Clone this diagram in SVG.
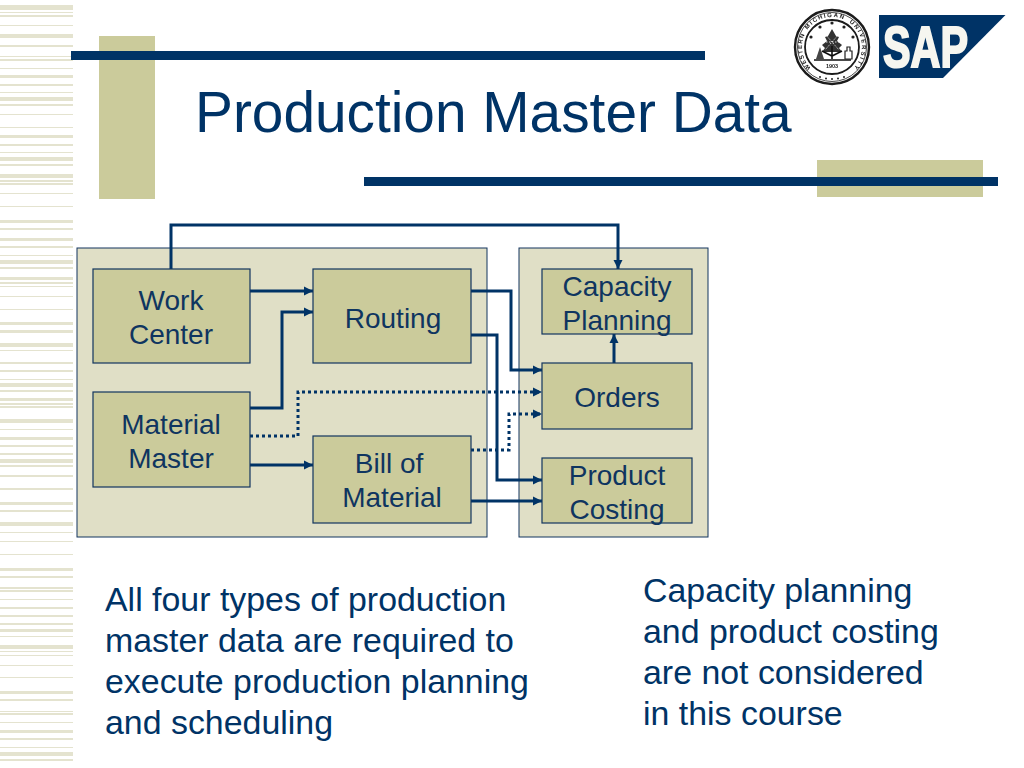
<svg xmlns="http://www.w3.org/2000/svg" width="1024" height="768" viewBox="0 0 1024 768">
<style>
text{font-family:"Liberation Sans",Arial,sans-serif;fill:#003366}
.panel{fill:#e0dfc6;stroke:#12355f;stroke-width:1}
.box{fill:#cbcb9b;stroke:#12355f;stroke-width:1.2}
.lbl{font-size:28px;text-anchor:middle;fill:#0f3560}
.body{font-size:33.9px}
.c{fill:none;stroke:#003366;stroke-width:3;marker-end:url(#a)}
.d{stroke-dasharray:3 3}
.tan{fill:#cbcb9b}.navy{fill:#003366}
.st{fill:#e4e3cf}
.ink{fill:none;stroke:#1a1a1a}
.seal{font-size:6px;font-weight:bold;fill:#1a1a1a}
</style>
<defs>
<marker id="a" markerUnits="userSpaceOnUse" markerWidth="10" markerHeight="10" refX="9" refY="5" orient="auto"><path d="M0 0.5L9 5L0 9.5Z" fill="#003366"/></marker>
<filter id="soft" x="-5%" y="-5%" width="110%" height="110%"><feGaussianBlur stdDeviation="0.35"/></filter>
<path id="s1" d="M810.8 68.2A30 30 0 0 1 804.8 34.3"/>
<path id="s2" d="M807.4 29.8A30 30 0 0 1 844.7 19.8"/>
<path id="s3" d="M849.2 22.4A30 30 0 0 1 853.2 68.2"/>
</defs>
<rect width="1024" height="768" fill="#fff"/>
<g id="stripes">
<path class="st" d="M0 5h73v5H0zM0 12h73v1H0zM0 15h73v2H0zM0 25h73v1H0zM0 34h73v4H0zM0 45h73v2H0zM0 56h73v1H0zM0 59h73v2H0zM0 68h73v1H0zM0 75h73v3H0zM0 84h73v2H0zM0 92h73v1H0zM0 97h73v4H0zM0 104h73v2H0zM0 114h73v1H0zM0 127h73v1H0zM0 135h73v3H0zM0 144h73v2H0zM0 152h73v1H0zM0 157h73v4H0zM0 164h73v2H0zM0 174h73v4H0zM0 180h73v2H0zM0 183h73v2H0zM0 193h73v1H0zM0 206h73v1H0zM0 220h73v3H0zM0 228h73v2H0zM0 238h73v3H0zM0 246h73v2H0zM0 255h73v1H0zM0 260h73v4H0zM0 267h73v2H0zM0 277h73v3H0zM0 282h73v2H0zM0 286h73v1H0zM0 296h73v1H0zM0 309h73v1H0zM0 322h73v3H0zM0 330h73v3H0zM0 343h73v4H0zM0 350h73v1H0zM0 362h73v2H0zM0 370h73v2H0zM0 379h73v1H0zM0 383h73v4H0zM0 390h73v2H0zM0 398h73v3H0zM0 403h73v2H0zM0 406h73v2H0zM0 419h73v4H0zM0 429h73v1H0zM0 437h73v3H0zM0 445h73v2H0zM0 453h73v2H0zM0 459h73v4H0zM0 465h73v2H0zM0 475h73v2H0zM0 488h73v2H0zM0 502h73v3H0zM0 510h73v2H0zM0 522h73v4H0zM0 532h73v1H0zM0 541h73v1H0zM0 554h73v1H0zM0 568h73v3H0zM0 576h73v2H0zM0 587h73v2H0zM0 590h73v2H0zM0 599h73v1H0zM0 607h73v2H0zM0 615h73v2H0zM0 623h73v2H0zM0 629h73v3H0zM0 636h73v1H0zM0 645h73v4H0zM0 651h73v1H0zM0 655h73v1H0zM0 665h73v1H0zM0 677h73v1H0zM0 691h73v3H0zM0 699h73v2H0zM0 711h73v1H0zM0 713h73v2H0zM0 722h73v1H0zM0 730h73v3H0zM0 738h73v2H0zM0 747h73v1H0zM0 752h73v4H0zM0 759h73v2H0z"/>
</g>
<g id="decor">
<rect class="tan" x="99" y="36" width="56" height="163"/>
<rect class="navy" x="71" y="51" width="634" height="9"/>
<rect class="tan" x="817" y="160" width="166" height="37"/>
<rect class="navy" x="364" y="177" width="634" height="9"/>
</g>
<text id="title" x="195" y="132" font-size="56.8">Production Master Data</text>
<g id="seal" filter="url(#soft)">
<circle class="ink" cx="832" cy="47" r="37" stroke-width="2.4"/>
<circle class="ink" cx="832" cy="47" r="34.5" stroke-width="0.8"/>
<circle class="ink" cx="832" cy="47" r="27" stroke-width="1.8"/>
<text class="seal" style="letter-spacing:1px"><textPath href="#s1">WESTERN</textPath></text>
<text class="seal" style="letter-spacing:1.4px"><textPath href="#s2">MICHIGAN</textPath></text>
<text class="seal" style="letter-spacing:1.7px"><textPath href="#s3">UNIVERSITY</textPath></text>
<path d="M832 29L836 36L839 37L837 41L842 45L839 48L842 52L822 52L825 48L822 45L827 41L825 37L828 36Z" fill="#333"/>
<path d="M825 34L839 50M839 34L825 50M823 42H841" stroke="#fff" stroke-width="0.8" stroke-dasharray="1.5 1.5" fill="none"/>
<path d="M832 46V59M822 51L832 56L842 51M814 60H851" stroke="#111" stroke-width="1.6" fill="none"/>
<path d="M816 59L820 47L824 59Z" fill="#444"/>
<path d="M845 59V51H847V47H850V51H852V59Z" fill="none" stroke="#222" stroke-width="1.2"/>
<g fill="#222"><circle cx="811" cy="37" r="1.6"/><circle cx="820" cy="27" r="1.6"/><circle cx="832" cy="23" r="1.6"/><circle cx="844" cy="27" r="1.6"/><circle cx="853" cy="37" r="1.6"/><circle cx="820" cy="77" r="1"/><circle cx="826" cy="78.500" r="1"/><circle cx="832" cy="79" r="1"/><circle cx="838" cy="78.500" r="1"/><circle cx="844" cy="77" r="1"/></g>
<text x="832" y="68" font-size="5.500" font-weight="bold" text-anchor="middle" style="fill:#222">1903</text>
</g>
<g id="sap">
<path class="navy" d="M879 15H1005.500L943 78H879Z"/>
<text x="883" y="67" font-size="58" font-weight="bold" textLength="85" lengthAdjust="spacingAndGlyphs" style="fill:#f6f6f0;stroke:#f6f6f0;stroke-width:2.200">SAP</text>
</g>
<g id="panels">
<rect class="panel" x="77" y="248" width="410" height="289"/>
<rect class="panel" x="519" y="248" width="189" height="289"/>
</g>
<g id="connectors">
<path class="c" d="M171 269V225H618V269"/>
<path class="c" d="M250 291H313"/>
<path class="c" d="M250 408H282V312H313"/>
<path class="c d" d="M250 436H298V392H542"/>
<path class="c" d="M250 465H313"/>
<path class="c" d="M471 291H511V370H542"/>
<path class="c" d="M471 335H497V480H542"/>
<path class="c d" d="M471 450H509V414H542"/>
<path class="c" d="M471 501H542"/>
<path class="c" d="M614 363V334"/>
</g>
<g id="work-center"><rect class="box" x="93" y="269" width="157" height="94"/><text class="lbl" x="171" y="310">Work</text><text class="lbl" x="171" y="344">Center</text></g>
<g id="material-master"><rect class="box" x="93" y="392" width="157" height="95"/><text class="lbl" x="171" y="434">Material</text><text class="lbl" x="171" y="468">Master</text></g>
<g id="routing"><rect class="box" x="313" y="269" width="158" height="94"/><text class="lbl" x="393" y="328">Routing</text></g>
<g id="bill-of-material"><rect class="box" x="313" y="436" width="158" height="87"/><text class="lbl" x="389" y="473">Bill of</text><text class="lbl" x="392" y="507">Material</text></g>
<g id="capacity-planning"><rect class="box" x="542" y="269" width="150" height="65"/><text class="lbl" x="617" y="296">Capacity</text><text class="lbl" x="617" y="330">Planning</text></g>
<g id="orders"><rect class="box" x="542" y="363" width="150" height="66"/><text class="lbl" x="617" y="407">Orders</text></g>
<g id="product-costing"><rect class="box" x="542" y="458" width="150" height="65"/><text class="lbl" x="617" y="485">Product</text><text class="lbl" x="617" y="519">Costing</text></g>
<g id="notes">
<text class="body"><tspan x="105" y="610.500">All four types of production</tspan><tspan x="105" y="651.500">master data are required to</tspan><tspan x="105" y="692.500">execute production planning</tspan><tspan x="105" y="733.500">and scheduling</tspan></text>
<text class="body"><tspan x="643" y="601.500">Capacity planning</tspan><tspan x="643" y="642.500">and product costing</tspan><tspan x="643" y="683.500">are not considered</tspan><tspan x="643" y="724.500">in this course</tspan></text>
</g>
</svg>
